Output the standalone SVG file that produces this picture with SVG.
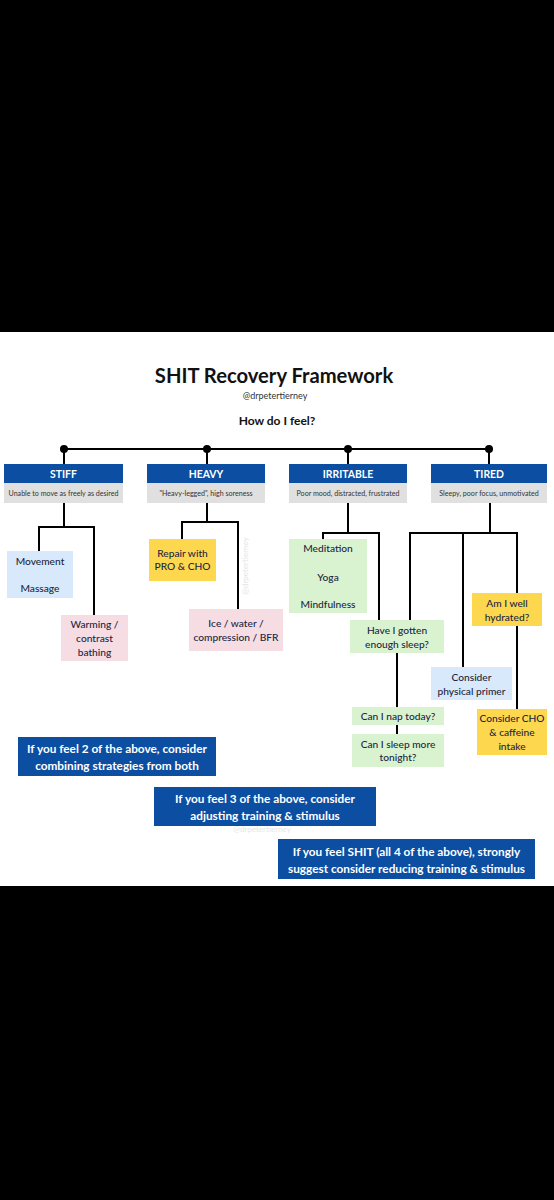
<svg xmlns="http://www.w3.org/2000/svg" width="554" height="1200" viewBox="0 0 554 1200">
<style>
.hdr{fill:#0b4ea2}
.sub{fill:#e0e0e0}
.blue{fill:#d7e9fb}
.pink{fill:#f5dde3}
.yel{fill:#fdd84e}
.grn{fill:#d9f3d1}
.ht{font-family:Lato,"Liberation Sans",sans-serif;font-weight:bold;font-size:10.4px;fill:#fff;text-anchor:middle}
.st{font-family:Lato,"Liberation Sans",sans-serif;font-size:7.1px;fill:#333;text-anchor:middle}
.nt{font-family:Lato,"Liberation Sans",sans-serif;font-size:10.2px;fill:#1c2540;text-anchor:middle;font-weight:500}
.bt{font-family:Lato,"Liberation Sans",sans-serif;font-weight:bold;font-size:11.8px;fill:#fff;text-anchor:middle}
.wm{font-family:Lato,"Liberation Sans",sans-serif;font-size:8px;fill:#e6e6e6;text-anchor:middle}
.ln{stroke:#000;stroke-width:2;fill:none}
</style>
<rect x="0" y="0" width="554" height="1200" fill="#000"/>
<rect x="0" y="332" width="554" height="554" fill="#fff"/>
<g id="title">
<text x="274" y="383" font-family="Lato,'Liberation Sans',sans-serif" font-weight="bold" font-size="20.2" fill="#111" text-anchor="middle">SHIT Recovery Framework</text>
<text x="275" y="399" font-family="Lato,'Liberation Sans',sans-serif" font-size="9" fill="#333" text-anchor="middle">@drpetertierney</text>
<text x="277" y="425" font-family="Lato,'Liberation Sans',sans-serif" font-weight="bold" font-size="12" fill="#111" text-anchor="middle">How do I feel?</text>
</g>
<g id="watermarks">
<text class="wm" transform="translate(248,566) rotate(-90)">@drpetertierney</text>
<text class="wm" x="262" y="832">@drpetertierney</text>
</g>
<g id="connectors">
<line class="ln" x1="64" y1="449" x2="489" y2="449"/>
<circle cx="64" cy="449" r="4"/><circle cx="207" cy="449" r="4"/><circle cx="348" cy="449" r="4"/><circle cx="489" cy="449" r="4"/>
<line class="ln" x1="64" y1="449" x2="64" y2="464"/>
<line class="ln" x1="207" y1="449" x2="207" y2="464"/>
<line class="ln" x1="348" y1="449" x2="348" y2="464"/>
<line class="ln" x1="489" y1="449" x2="489" y2="464"/>
<polyline class="ln" points="64,503 64,527"/>
<polyline class="ln" points="39,551 39,527 94,527 94,615"/>
<polyline class="ln" points="207,503 207,522"/>
<polyline class="ln" points="182,539 182,522 238,522 238,609"/>
<polyline class="ln" points="348,503 348,533"/>
<polyline class="ln" points="323,539 323,533 379,533 379,620"/>
<polyline class="ln" points="490,503 490,533"/>
<polyline class="ln" points="410,620 410,533 517,533 517,593"/>
<line class="ln" x1="463" y1="533" x2="463" y2="667"/>
<line class="ln" x1="517" y1="626" x2="517" y2="709"/>
<line class="ln" x1="397" y1="653" x2="397" y2="707"/>
<line class="ln" x1="397" y1="725" x2="397" y2="734"/>
</g>
<g id="stiff">
<rect class="hdr" x="4" y="464" width="119" height="19"/>
<rect class="sub" x="4" y="483" width="119" height="20"/>
<text class="ht" x="63.5" y="477.7">STIFF</text>
<text class="st" x="63.5" y="495.7">Unable to move as freely as desired</text>
</g>
<g id="heavy">
<rect class="hdr" x="147" y="464" width="118" height="19"/>
<rect class="sub" x="147" y="483" width="118" height="20"/>
<text class="ht" x="206" y="477.7">HEAVY</text>
<text class="st" x="206" y="495.7">"Heavy-legged", high soreness</text>
</g>
<g id="irritable">
<rect class="hdr" x="289" y="464" width="118" height="19"/>
<rect class="sub" x="289" y="483" width="118" height="20"/>
<text class="ht" x="348" y="477.7">IRRITABLE</text>
<text class="st" x="348" y="495.7">Poor mood, distracted, frustrated</text>
</g>
<g id="tired">
<rect class="hdr" x="431" y="464" width="116" height="19"/>
<rect class="sub" x="431" y="483" width="116" height="20"/>
<text class="ht" x="489" y="477.7">TIRED</text>
<text class="st" x="489" y="495.7">Sleepy, poor focus, unmotivated</text>
</g>
<g id="movement">
<rect class="blue" x="7" y="551" width="66" height="47"/>
<text class="nt" x="40" y="564.5">Movement</text>
<text class="nt" x="40" y="591.5">Massage</text>
</g>
<g id="warming">
<rect class="pink" x="61" y="615" width="67" height="46"/>
<text class="nt" x="94.5" y="627.5">Warming /</text>
<text class="nt" x="94.5" y="641.5">contrast</text>
<text class="nt" x="94.5" y="655.5">bathing</text>
</g>
<g id="repair">
<rect class="yel" x="149" y="539" width="67" height="42"/>
<text class="nt" x="182.5" y="556.5">Repair with</text>
<text class="nt" x="182.5" y="570">PRO &amp; CHO</text>
</g>
<g id="ice">
<rect class="pink" x="189" y="609" width="94" height="42"/>
<text class="nt" x="236" y="626.5">Ice / water /</text>
<text class="nt" x="236" y="640.5">compression / BFR</text>
</g>
<g id="meditation">
<rect class="grn" x="289" y="539" width="78" height="74"/>
<text class="nt" x="328" y="551.5">Meditation</text>
<text class="nt" x="328" y="580.5">Yoga</text>
<text class="nt" x="328" y="607.5">Mindfulness</text>
</g>
<g id="sleep">
<rect class="grn" x="350" y="620" width="94" height="33"/>
<text class="nt" x="397" y="633.5">Have I gotten</text>
<text class="nt" x="397" y="647.5">enough sleep?</text>
</g>
<g id="hydrated">
<rect class="yel" x="472" y="593" width="70" height="33"/>
<text class="nt" x="507" y="606.5">Am I well</text>
<text class="nt" x="507" y="620.5">hydrated?</text>
</g>
<g id="primer">
<rect class="blue" x="431" y="667" width="81" height="33"/>
<text class="nt" x="471.5" y="680.5">Consider</text>
<text class="nt" x="471.5" y="694.5">physical primer</text>
</g>
<g id="nap">
<rect class="grn" x="352" y="707" width="92" height="18"/>
<text class="nt" x="398" y="719.5">Can I nap today?</text>
</g>
<g id="sleepmore">
<rect class="grn" x="352" y="734" width="92" height="33"/>
<text class="nt" x="398" y="747.5">Can I sleep more</text>
<text class="nt" x="398" y="761">tonight?</text>
</g>
<g id="cho">
<rect class="yel" x="477" y="709" width="70" height="46"/>
<text class="nt" x="512" y="721.5">Consider CHO</text>
<text class="nt" x="512" y="736">&amp; caffeine</text>
<text class="nt" x="512" y="750">intake</text>
</g>
<g id="two">
<rect class="hdr" x="18" y="737" width="198" height="39"/>
<text class="bt" x="117" y="753">If you feel 2 of the above, consider</text>
<text class="bt" x="117" y="770">combining strategies from both</text>
</g>
<g id="three">
<rect class="hdr" x="154" y="787" width="222" height="39"/>
<text class="bt" x="265" y="802.5">If you feel 3 of the above, consider</text>
<text class="bt" x="265" y="819.5">adjusting training &amp; stimulus</text>
</g>
<g id="four">
<rect class="hdr" x="278" y="839" width="257" height="40"/>
<text class="bt" x="406.5" y="855.5">If you feel SHIT (all 4 of the above), strongly</text>
<text class="bt" x="406.5" y="872.5">suggest consider reducing training &amp; stimulus</text>
</g>
</svg>
